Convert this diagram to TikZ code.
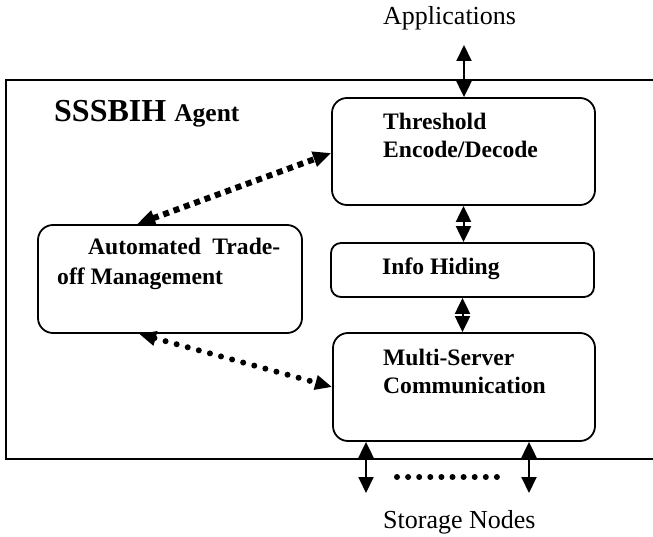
\documentclass[tikz,border=0pt]{standalone}
\usepackage{fontspec}
\setmainfont{Liberation Serif}
\usetikzlibrary{arrows.meta}
\begin{document}
\begin{tikzpicture}[x=1pt,y=-1pt,
  box/.style={draw, line width=1.8pt, rounded corners=15pt, inner sep=0pt},
  boldtxt/.style={font=\fontsize{23.6}{28}\selectfont\bfseries, inner sep=0pt, anchor=base west, align=left},
  plaintxt/.style={font=\fontsize{26}{30}\selectfont, inner sep=0pt, anchor=base west},
  solidarrow/.style={line width=2pt, {Triangle[length=16pt,width=15pt]}-{Triangle[length=16pt,width=15pt]}},
  sqdots/.style={line width=6pt, dash pattern=on 6pt off 5pt, {Triangle[length=18pt,width=15pt]}-{Triangle[length=18pt,width=15pt]}},
  rddots/.style={line width=6pt, line cap=round, dash pattern=on 0pt off 11.5pt, {Triangle[length=17pt,width=14pt]}-{Triangle[length=17pt,width=14pt]}},
  dotrow/.style={line width=6pt, line cap=round, dash pattern=on 0pt off 11.1pt}
]
\useasboundingbox (0,0) rectangle (653,537);

% outer agent frame (right side beyond the picture)
\draw[line width=2pt] (653,80) -- (6,80) -- (6,459) -- (653,459);

% boxes
\node[box, minimum width=263pt, minimum height=107pt] (thr) at (463.5,151.5) {};
\node[box, rounded corners=10pt, minimum width=263pt, minimum height=54pt] (info) at (462.5,270) {};
\node[box, minimum width=262pt, minimum height=108pt] (multi) at (464,387) {};
\node[box, minimum width=264pt, minimum height=108pt] (auto) at (170,279) {};

% texts
\node[plaintxt] (app) at (383,25) {Applications};
\node[plaintxt] (stor) at (383,528) {Storage Nodes};
\node[inner sep=0pt, anchor=base west, font=\fontsize{32}{36}\selectfont\bfseries] (agent) at (54,122) {SSSBIH {\fontsize{25.5}{30}\selectfont Agent}};
\node[boldtxt] (thrtxt) at (383,158) {Threshold\\Encode/Decode};
\node[boldtxt] (infotxt) at (382,275) {Info Hiding};
\node[boldtxt] (multitxt) at (383,393) {Multi-Server\\Communication};
\node[boldtxt, font=\fontsize{23.6}{30}\selectfont\bfseries] (autotxt) at (57,285) {\hspace*{31pt}\makebox[192pt][s]{Automated Trade-}\\off Management};

% coordinates for free ends
\coordinate (apptop) at (464,45);
\coordinate (sn1) at (366,493);
\coordinate (sn2) at (529,493);
\coordinate (autotop) at ([xshift=100pt]auto.north west);
\coordinate (autobot) at ([xshift=102pt]auto.south west);

% solid arrows
\draw[solidarrow] (apptop) -- (apptop |- thr.north);
\draw[solidarrow] (thr.south) -- (thr.south |- info.north);
\draw[solidarrow] (info.south) -- (info.south |- multi.north);
\draw[solidarrow] (sn1 |- multi.south) -- (sn1);
\draw[solidarrow] (sn2 |- multi.south) -- (sn2);

% dotted arrows
\draw[sqdots] (autotop) -- ([yshift=-1.5pt]thr.west);
\draw[rddots] (autobot) -- (multi.west);

% row of dots between storage arrows
\coordinate (dr1) at (397,477);
\coordinate (dr2) at (497.5,477);
\draw[dotrow] (dr1) -- (dr2);
\end{tikzpicture}
\end{document}
